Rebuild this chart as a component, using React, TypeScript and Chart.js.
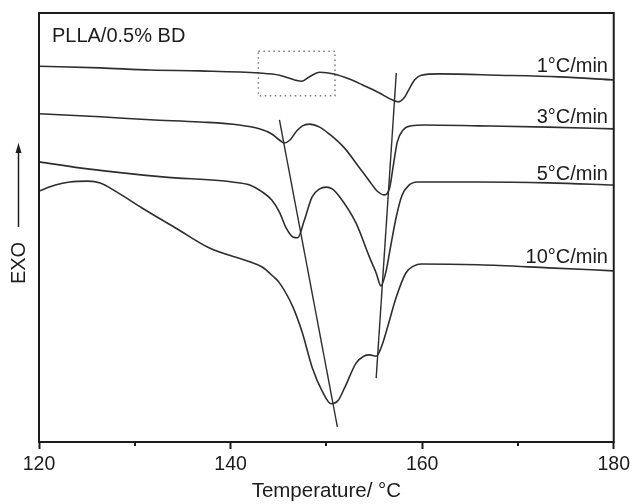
import React, { useEffect, useRef } from 'react';
import { Chart, registerables } from 'chart.js';

Chart.register(...registerables);

// ---- data (temperature in °C, heat flow in arbitrary units, exo up) ----
const RATE_LABELS = ['1°C/min', '3°C/min', '5°C/min', '10°C/min'];
const SAMPLE_LABEL = 'PLLA/0.5% BD';
const X_TITLE = 'Temperature/ °C';
const Y_TITLE = 'EXO';

const T_1 = [120, 126.4, 131.6, 136.8, 143.0, 145.1, 146.7, 147.4, 148.2, 149.3, 150.8, 152.4, 153.8, 155.5, 156.9, 157.5, 158.1, 158.7, 159.2, 159.9, 161.8, 168.0, 174.3, 180];
const HF_1 = [87.6, 87.2, 86.7, 86.5, 86.0, 85.5, 84.4, 84.1, 85.1, 86.2, 85.8, 84.6, 83.2, 81.4, 79.7, 79.3, 80.2, 82.5, 84.4, 85.5, 85.8, 85.5, 85.1, 84.4];

const T_3 = [120, 126.4, 131.6, 136.8, 140.9, 143.0, 144.3, 145.1, 145.6, 146.2, 146.9, 147.5, 148.2, 149.3, 150.3, 151.9, 153.1, 154.5, 155.3, 156.0, 156.6, 157.0, 157.4, 158.0, 158.9, 160.2, 165.9, 173.2, 180];
const HF_3 = [76.5, 75.8, 75.1, 74.6, 73.9, 73.0, 71.8, 70.4, 69.7, 70.4, 72.5, 73.7, 74.1, 73.4, 71.8, 68.5, 65.0, 60.8, 58.5, 57.6, 59.2, 64.6, 69.9, 72.7, 73.7, 73.9, 73.7, 73.4, 73.0];

const T_5 = [120, 125.3, 132.9, 140.2, 142.0, 143.3, 144.3, 145.1, 145.8, 146.5, 147.0, 147.7, 148.5, 149.3, 150.0, 150.6, 151.4, 153.1, 154.5, 155.2, 155.7, 156.2, 156.7, 157.3, 157.9, 158.6, 159.5, 165.9, 173.2, 180];
const HF_5 = [65.3, 63.6, 61.8, 60.6, 59.9, 58.3, 56.4, 53.6, 49.9, 47.8, 47.6, 51.7, 57.1, 59.0, 59.4, 59.0, 57.1, 51.0, 43.1, 39.4, 36.4, 39.5, 45.5, 52.5, 57.5, 59.8, 60.6, 60.6, 60.4, 59.9];

const T_10 = [120, 121.7, 123.2, 125.1, 126.4, 128.1, 130.8, 134.4, 137.8, 142.0, 143.3, 144.4, 145.1, 146.5, 147.5, 148.5, 149.6, 150.5, 151.2, 151.9, 153.1, 153.9, 154.5, 155.2, 155.7, 156.3, 157.3, 158.3, 159.1, 159.9, 165.9, 173.2, 180];
const HF_10 = [58.5, 59.9, 60.6, 60.8, 60.4, 58.3, 54.5, 49.7, 45.2, 42.0, 40.8, 38.7, 37.1, 31.5, 25.4, 17.5, 11.7, 8.9, 9.6, 12.6, 18.4, 20.0, 20.3, 20.0, 21.9, 26.1, 33.8, 39.4, 41.0, 41.5, 41.3, 40.6, 39.9];

// guide lines through the peaks
const GUIDE_A_T = [145.1, 151.15];
const GUIDE_A_HF = [75.1, 3.5];
const GUIDE_B_T = [157.3, 155.2];
const GUIDE_B_HF = [86.0, 14.9];

// dotted box around the small 1°C/min peak
const BOX_T = [142.9, 150.9, 150.9, 142.9, 142.9];
const BOX_HF = [91.1, 91.1, 80.7, 80.7, 91.1];

const MAJOR_TICKS = [120, 140, 160, 180];
const MINOR_TICKS = [130, 150, 170];

const FONT_FAMILY = '"Liberation Sans", Arial, sans-serif';
const TICK_SIZE = 19.5;
const TEXT_SIZE = 20;
const TITLE_SIZE = 20.5;
const INK = '#1c1c1c';
const CURVE = '#2e2e2e';

const pts = (xs: number[], ys: number[]) => xs.map((x, i) => ({ x, y: ys[i] }));

const annotationPlugin = {
  id: 'annot',
  afterDraw(chart: any) {
    const { ctx, chartArea, scales } = chart;
    const { left, top, right, bottom } = chartArea;
    const x = scales.x;
    const y = scales.y;
    ctx.save();
    // frame
    ctx.strokeStyle = INK;
    ctx.lineWidth = 2;
    ctx.strokeRect(left, top, right - left, bottom - top);
    // minor ticks
    MINOR_TICKS.forEach((t) => {
      const px = Math.round(x.getPixelForValue(t));
      ctx.beginPath();
      ctx.moveTo(px, bottom);
      ctx.lineTo(px, bottom + 4);
      ctx.stroke();
    });
    // texts
    ctx.fillStyle = INK;
    ctx.font = `${TEXT_SIZE}px ${FONT_FAMILY}`;
    ctx.textBaseline = 'alphabetic';
    ctx.textAlign = 'left';
    ctx.fillText(SAMPLE_LABEL, x.getPixelForValue(121.35), y.getPixelForValue(93.2));
    const labelAnchors = [86.2, 74.4, 61.1, 41.7];
    ctx.textAlign = 'right';
    RATE_LABELS.forEach((s, i) => {
      ctx.fillText(s, x.getPixelForValue(179.4), y.getPixelForValue(labelAnchors[i]));
    });
    // y title rotated + arrow
    ctx.save();
    ctx.translate(24.5, 263);
    ctx.rotate(-Math.PI / 2);
    ctx.textAlign = 'center';
    ctx.fillText(Y_TITLE, 0, 0);
    ctx.restore();
    const ax = 18.5;
    ctx.lineWidth = 1.5;
    ctx.beginPath();
    ctx.moveTo(ax, 227);
    ctx.lineTo(ax, 150);
    ctx.stroke();
    ctx.beginPath();
    ctx.moveTo(ax, 143);
    ctx.lineTo(ax - 3, 153);
    ctx.lineTo(ax + 3, 153);
    ctx.closePath();
    ctx.fill();
    ctx.restore();
  },
};

export default function App() {
  const canvasRef = useRef<HTMLCanvasElement | null>(null);

  useEffect(() => {
    if (!canvasRef.current) return;
    const curveStyle = {
      borderColor: CURVE,
      borderWidth: 1.6,
      pointRadius: 0,
      fill: false,
      cubicInterpolationMode: 'monotone' as const,
    };
    const straight = {
      borderColor: CURVE,
      borderWidth: 1.4,
      pointRadius: 0,
      fill: false,
      tension: 0,
    };
    const chart = new Chart(canvasRef.current, {
      type: 'line',
      data: {
        datasets: [
          { label: RATE_LABELS[0], data: pts(T_1, HF_1), ...curveStyle },
          { label: RATE_LABELS[1], data: pts(T_3, HF_3), ...curveStyle },
          { label: RATE_LABELS[2], data: pts(T_5, HF_5), ...curveStyle },
          { label: RATE_LABELS[3], data: pts(T_10, HF_10), ...curveStyle },
          { label: 'guide A', data: pts(GUIDE_A_T, GUIDE_A_HF), ...straight },
          { label: 'guide B', data: pts(GUIDE_B_T, GUIDE_B_HF), ...straight },
          {
            label: 'box',
            data: pts(BOX_T, BOX_HF),
            borderColor: '#7a7a7a',
            borderWidth: 1.5,
            borderDash: [1.5, 3.5],
            pointRadius: 0,
            fill: false,
            tension: 0,
          },
        ],
      },
      options: {
        animation: false,
        responsive: false,
        layout: { padding: { left: 39, right: 19, top: 13, bottom: 0 } },
        plugins: {
          legend: { display: false },
          tooltip: { enabled: false },
          title: { display: false },
        },
        scales: {
          x: {
            type: 'linear',
            min: 120,
            max: 180,
            afterFit: (scale: any) => {
              scale.height = 62;
            },
            afterBuildTicks: (scale: any) => {
              scale.ticks = MAJOR_TICKS.map((v) => ({ value: v }));
            },
            ticks: {
              color: INK,
              font: { family: FONT_FAMILY, size: TICK_SIZE },
              padding: 4,
              maxRotation: 0,
              autoSkip: false,
              callback: (v: any) => String(v),
            },
            grid: {
              display: true,
              drawOnChartArea: false,
              drawTicks: true,
              tickLength: 7,
              tickWidth: 2,
              tickColor: INK,
            },
            border: { display: false },
            title: {
              display: true,
              text: X_TITLE,
              color: INK,
              font: { family: FONT_FAMILY, size: TITLE_SIZE },
              padding: { top: 0, bottom: 0 },
            },
          },
          y: {
            type: 'linear',
            min: 0,
            max: 100,
            display: false,
          },
        },
      },
      plugins: [annotationPlugin],
    });
    return () => chart.destroy();
  }, []);

  return (
    <div style={{ position: 'absolute', left: 0, top: 0, width: 634, height: 504, background: '#fff' }}>
      <canvas ref={canvasRef} width={634} height={504} style={{ display: 'block' }} />
    </div>
  );
}
